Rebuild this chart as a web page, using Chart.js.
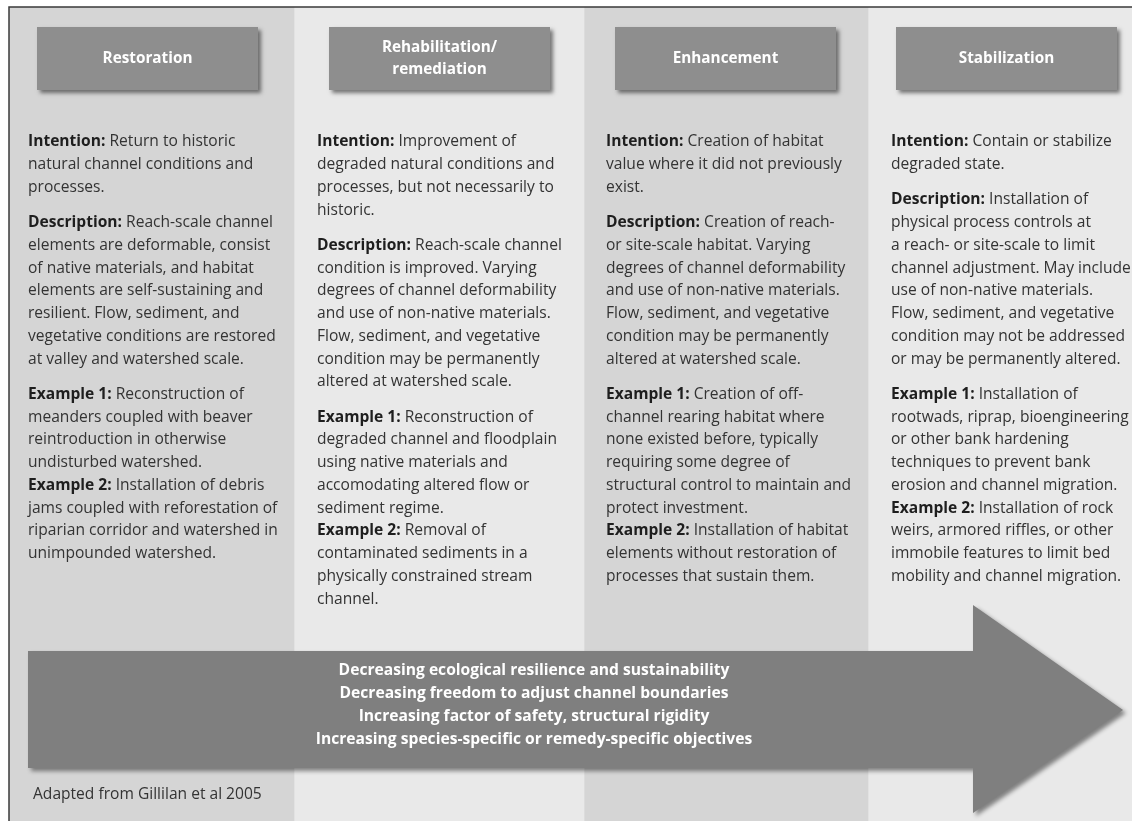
<!DOCTYPE html>
<html>
<head>
<meta charset="utf-8">
<script src="https://cdn.jsdelivr.net/npm/chart.js@4/dist/chart.umd.min.js"></script>
<style>
  html, body { margin: 0; padding: 0; background: #fff; }
  #panel { display: block; }
</style>
</head>
<body>
<canvas id="panel" width="1132" height="821"></canvas>
<script>
// Approaches (columns of the figure)
const approaches = ["Restoration", "Rehabilitation/\nremediation", "Enhancement", "Stabilization"]

const intentions = [
  "Return to historic\nnatural channel conditions and\nprocesses.",
  "Improvement of\ndegraded natural conditions and\nprocesses, but not necessarily to\nhistoric.",
  "Creation of habitat\nvalue where it did not previously\nexist.",
  "Contain or stabilize\ndegraded state.",
]

const descriptions = [
  "Reach-scale channel\nelements are deformable, consist\nof native materials, and habitat\nelements are self-sustaining and\nresilient. Flow, sediment, and\nvegetative conditions are restored\nat valley and watershed scale.",
  "Reach-scale channel\ncondition is improved. Varying\ndegrees of channel deformability\nand use of non-native materials.\nFlow, sediment, and vegetative\ncondition may be permanently\naltered at watershed scale.",
  "Creation of reach-\nor site-scale habitat. Varying\ndegrees of channel deformability\nand use of non-native materials.\nFlow, sediment, and vegetative\ncondition may be permanently\naltered at watershed scale.",
  "Installation of\nphysical process controls at\na reach- or site-scale to limit\nchannel adjustment. May include\nuse of non-native materials.\nFlow, sediment, and vegetative\ncondition may not be addressed\nor may be permanently altered.",
]

const examples1 = [
  "Reconstruction of\nmeanders coupled with beaver\nreintroduction in otherwise\nundisturbed watershed.",
  "Reconstruction of\ndegraded channel and floodplain\nusing native materials and\naccomodating altered flow or\nsediment regime.",
  "Creation of off-\nchannel rearing habitat where\nnone existed before, typically\nrequiring some degree of\nstructural control to maintain and\nprotect investment.",
  "Installation of\nrootwads, riprap, bioengineering\nor other bank hardening\ntechniques to prevent bank\nerosion and channel migration.",
]

const examples2 = [
  "Installation of debris\njams coupled with reforestation of\nriparian corridor and watershed in\nunimpounded watershed.",
  "Removal of\ncontaminated sediments in a\nphysically constrained stream\nchannel.",
  "Installation of habitat\nelements without restoration of\nprocesses that sustain them.",
  "Installation of rock\nweirs, armored riffles, or other\nimmobile features to limit bed\nmobility and channel migration.",
]

const trends = [
  "Decreasing ecological resilience and sustainability",
  "Decreasing freedom to adjust channel boundaries",
  "Increasing factor of safety, structural rigidity",
  "Increasing species-specific or remedy-specific objectives",
]

const source = "Adapted from Gillilan et al 2005"

// Layout
const colSpans = [285, 290, 284, 264]
const colColors = ["#d5d5d5", "#e9e9e9", "#d5d5d5", "#e9e9e9"]
const boxInsets = [28, 35, 31, 28]
const textInsets = [19, 23, 22, 23]
const family = "'Open Sans', sans-serif"
const lineH = 22.75
const paraGap = 12.5

function fitSize(ctx, weight, sample, target) {
  ctx.font = `${weight} 100px ${family}`
  return (100 * target) / ctx.measureText(sample).width
}

const panelPlugin = {
  id: "panelPlugin",
  afterDatasetsDraw(chart) {
    const ctx = chart.ctx
    const area = chart.chartArea
    const bodySize = fitSize(ctx, "normal", "vegetative conditions are restored", 248)
    const headSize = fitSize(ctx, "bold", "Restoration", 90)
    const arrowSize = fitSize(ctx, "bold", trends[3], 437)
    const srcSize = fitSize(ctx, "normal", source, 229)

    ctx.save()

    // outer frame
    ctx.strokeStyle = "#3a3a3a"
    ctx.lineWidth = 1.5
    ctx.beginPath()
    ctx.moveTo(area.left, area.bottom)
    ctx.lineTo(area.left, area.top)
    ctx.lineTo(area.right, area.top)
    ctx.stroke()

    ctx.textBaseline = "middle"

    approaches.forEach((name, i) => {
      const bar = chart.getDatasetMeta(i).data[0]
      const left = Math.min(bar.base, bar.x)

      // header box with drop shadow
      const bx = left + boxInsets[i]
      const by = area.top + 20
      ctx.save()
      ctx.shadowColor = "rgba(0, 0, 0, 0.5)"
      ctx.shadowBlur = 4
      ctx.shadowOffsetX = 3
      ctx.shadowOffsetY = 3
      ctx.fillStyle = "#8e8e8e"
      ctx.fillRect(bx, by, 221, 63)
      ctx.restore()

      ctx.fillStyle = "#ffffff"
      ctx.font = `bold ${headSize}px ${family}`
      ctx.textAlign = "center"
      const hl = name.split("\n")
      const hy = by + 31.5 - ((hl.length - 1) * 22) / 2
      hl.forEach((t, k) => ctx.fillText(t, bx + 110.5, hy + k * 22))

      // text paragraphs
      ctx.textAlign = "left"
      const tx = left + textInsets[i]
      let y = 142
      const para = (label, text) => {
        const lines = text.split("\n")
        ctx.font = `bold ${bodySize}px ${family}`
        ctx.fillStyle = "#1e1e1e"
        ctx.fillText(label, tx, y)
        const w = ctx.measureText(label + " ").width
        ctx.font = `normal ${bodySize}px ${family}`
        ctx.fillStyle = "#333333"
        lines.forEach((t, k) => {
          ctx.fillText(t, k === 0 ? tx + w : tx, y)
          y += lineH
        })
      }
      para("Intention:", intentions[i])
      y += paraGap
      para("Description:", descriptions[i])
      y += paraGap
      para("Example 1:", examples1[i])
      para("Example 2:", examples2[i])
    })

    // big arrow
    ctx.save()
    ctx.shadowColor = "rgba(0, 0, 0, 0.45)"
    ctx.shadowBlur = 4
    ctx.shadowOffsetX = 3
    ctx.shadowOffsetY = 3
    ctx.fillStyle = "#7f7f7f"
    ctx.beginPath()
    ctx.moveTo(28, 651)
    ctx.lineTo(973, 651)
    ctx.lineTo(973, 605)
    ctx.lineTo(1123, 710)
    ctx.lineTo(973, 813)
    ctx.lineTo(973, 768)
    ctx.lineTo(28, 768)
    ctx.closePath()
    ctx.fill()
    ctx.restore()

    ctx.fillStyle = "#ffffff"
    ctx.font = `bold ${arrowSize}px ${family}`
    ctx.textAlign = "center"
    trends.forEach((t, k) => ctx.fillText(t, 534, 671 + k * 22.7))

    // source note
    ctx.fillStyle = "#333333"
    ctx.font = `normal ${srcSize}px ${family}`
    ctx.textAlign = "left"
    ctx.fillText(source, 33, 795)

    ctx.restore()
  },
}

new Chart(document.getElementById("panel"), {
  type: "bar",
  data: {
    labels: ["panel"],
    datasets: approaches.map((name, i) => ({
      label: name,
      data: [colSpans[i]],
      backgroundColor: colColors[i],
      borderWidth: 0,
      barPercentage: 1,
      categoryPercentage: 1,
    })),
  },
  options: {
    indexAxis: "y",
    responsive: false,
    animation: false,
    layout: { padding: { left: 9, top: 7, right: 0, bottom: 0 } },
    scales: {
      x: { stacked: true, min: 0, max: colSpans.reduce((a, b) => a + b, 0), display: false },
      y: { stacked: true, display: false },
    },
    plugins: { legend: { display: false }, tooltip: { enabled: false } },
  },
  plugins: [panelPlugin],
})
</script>
</body>
</html>
